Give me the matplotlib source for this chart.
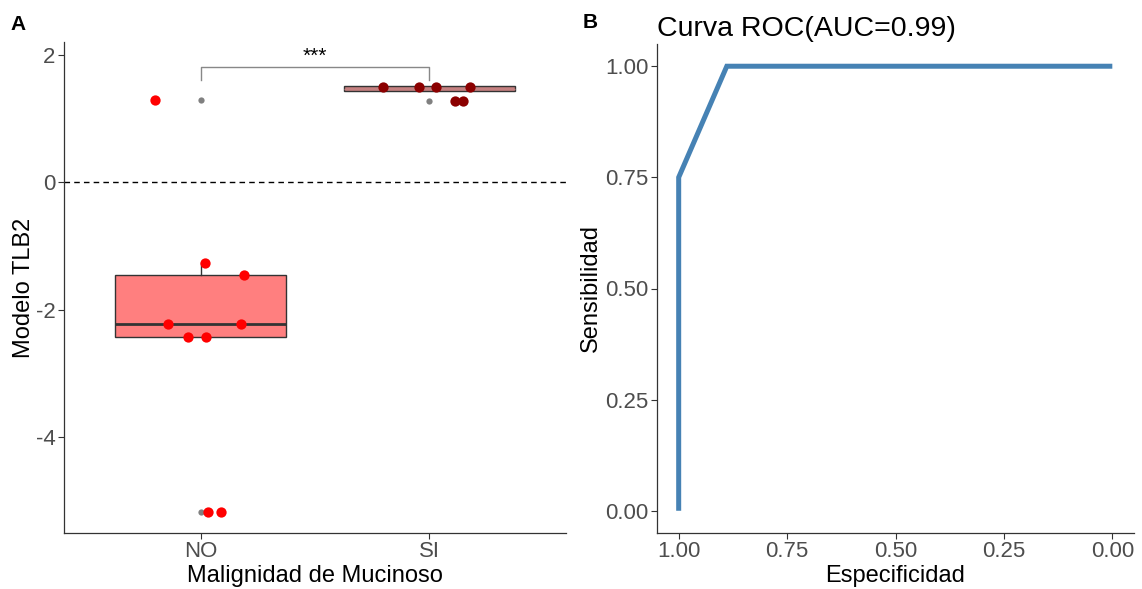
import numpy as np
import matplotlib
matplotlib.use("Agg")
import matplotlib.pyplot as plt

plt.rcParams['font.family'] = ['Liberation Sans', 'DejaVu Sans']
plt.rcParams['axes.unicode_minus'] = False

# ---- panel A data (Modelo TLB2 per group) ----
groups = ['NO', 'SI']
no_vals = [1.285, -1.26, -1.45, -2.22, -2.22, -2.43, -2.43, -5.17, -5.17]
no_jitter = [-0.20, 0.02, 0.19, -0.145, 0.175, -0.057, 0.022, 0.03, 0.088]
si_vals = [1.49, 1.49, 1.49, 1.49, 1.27, 1.27]
si_jitter = [-0.20, -0.044, 0.031, 0.178, 0.115, 0.150]

# box stats
box_q1 = [-2.43, 1.43]
box_med = [-2.22, 1.47]
box_q3 = [-1.45, 1.51]
box_lo = [-2.43, 1.43]
box_hi = [-1.26, 1.51]
box_fliers = [[1.285, -5.17], [1.27]]

# ---- panel B data (ROC) ----
especificidad = [1.0, 1.0, 0.889, 0.0]
sensibilidad = [0.0, 0.75, 1.0, 1.0]

tick_col = '#4D4D4D'
spine_col = '#333333'

fig = plt.figure(figsize=(11.42, 5.89), dpi=100)
axA = fig.add_axes([64/1142, 56/589, 502/1142, 491/589])
axB = fig.add_axes([657/1142, 56/589, 477/1142, 489/589])

# ---------- panel A ----------
stats = []
for i in range(2):
    stats.append(dict(q1=box_q1[i], med=box_med[i], q3=box_q3[i],
                      whislo=box_lo[i], whishi=box_hi[i], fliers=box_fliers[i]))
bp = axA.bxp(stats, positions=[1, 2], widths=0.75, patch_artist=True,
             showcaps=False,
             boxprops=dict(edgecolor=spine_col, linewidth=1.0),
             whiskerprops=dict(color=spine_col, linewidth=1.0),
             medianprops=dict(color=spine_col, linewidth=2.0),
             flierprops=dict(marker='o', markerfacecolor='grey', markeredgecolor='none',
                             markersize=4.5))
bp['boxes'][0].set_facecolor('#FF7F7F')
bp['boxes'][1].set_facecolor('#C58080')
bp['medians'][1].set_color('#C58080')
bp['medians'][1].set_linewidth(1.0)

axA.scatter(1 + np.array(no_jitter), no_vals, s=55, color='#FF0000', zorder=3, linewidths=0)
axA.scatter(2 + np.array(si_jitter), si_vals, s=55, color='#8B0000', zorder=3, linewidths=0)

axA.axhline(0, color='black', linestyle=(0, (4, 3)), linewidth=1.0, zorder=1)

# significance bracket
axA.plot([1, 1, 2, 2], [1.61, 1.81, 1.81, 1.61], color='#888888', linewidth=1.0)
axA.text(1.5, 1.98, '***', ha='center', va='center', fontsize=15)

axA.set_xlim(0.4, 2.6)
axA.set_ylim(-5.5, 2.2)
axA.set_xticks([1, 2])
axA.set_xticklabels(groups)
axA.set_yticks([-4, -2, 0, 2])
axA.set_xlabel('Malignidad de Mucinoso', fontsize=17, labelpad=2)
axA.set_ylabel('Modelo TLB2', fontsize=17)
axA.yaxis.set_label_coords(-0.058, 0.5)

# ---------- panel B ----------
axB.plot(especificidad, sensibilidad, color='#4682B4', linewidth=3.6,
         solid_capstyle='butt', solid_joinstyle='miter')
axB.set_xlim(1.05, -0.05)
axB.set_ylim(-0.05, 1.05)
axB.set_xticks([1.0, 0.75, 0.5, 0.25, 0.0])
axB.set_xticklabels(['1.00', '0.75', '0.50', '0.25', '0.00'])
axB.set_yticks([0.0, 0.25, 0.5, 0.75, 1.0])
axB.set_yticklabels(['0.00', '0.25', '0.50', '0.75', '1.00'])
axB.set_xlabel('Especificidad', fontsize=17, labelpad=2)
axB.set_ylabel('Sensibilidad', fontsize=17)
axB.yaxis.set_label_coords(-0.115, 0.5)
axB.set_title('Curva ROC(AUC=0.99)', loc='left', fontsize=20.5, pad=6)

for ax in (axA, axB):
    for side in ('top', 'right'):
        ax.spines[side].set_visible(False)
    for side in ('left', 'bottom'):
        ax.spines[side].set_color(spine_col)
        ax.spines[side].set_linewidth(0.9)
    ax.tick_params(axis='both', colors=spine_col, labelcolor=tick_col,
                   labelsize=16, length=4, width=0.8, pad=2)

fig.text(18/1142, 1 - 25/589, 'A', fontsize=15, fontweight='bold', ha='center', va='center')
fig.text(590/1142, 1 - 22/589, 'B', fontsize=15, fontweight='bold', ha='center', va='center')

fig.savefig('out.png', dpi=100)
